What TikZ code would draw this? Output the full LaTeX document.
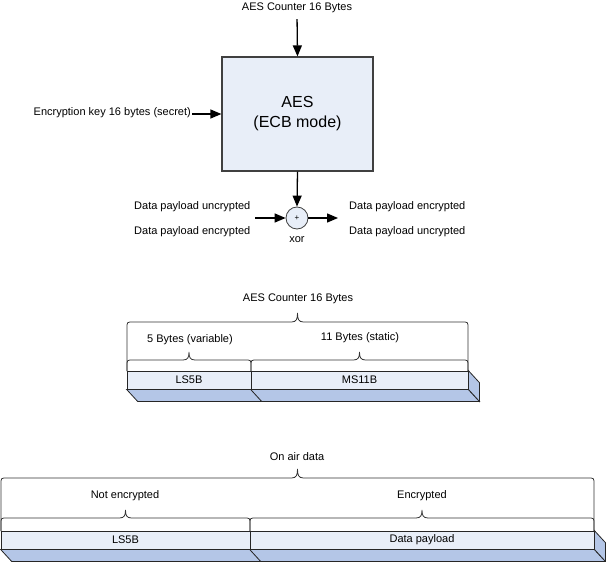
\documentclass[tikz,border=0pt]{standalone}
\usepackage{fontspec}
\setmainfont{Liberation Sans}
\usetikzlibrary{arrows.meta}
\definecolor{facefill}{HTML}{E8EEF8}
\definecolor{depthfill}{HTML}{B4C6E7}
\definecolor{edgegray}{HTML}{404040}
\tikzset{lbl/.style={font=\fontsize{11}{13}\selectfont, inner sep=1pt}}
\tikzset{flow/.style={line width=1.3pt, -{Triangle[length=11pt,width=9pt]}}}
\tikzset{aesbox/.style={draw=edgegray, line width=1.2pt, fill=facefill, align=center, font=\fontsize{16}{20}\selectfont}}
\tikzset{xorbox/.style={circle, draw=edgegray, line width=0.8pt, fill=facefill, minimum size=22, inner sep=0pt, font=\fontsize{8}{9}\selectfont}}
\tikzset{field/.style={draw=black!85, fill=facefill, line width=0.8pt, minimum height=18, inner sep=0pt, font=\fontsize{11}{13}\selectfont}}
\tikzset{depth/.style={draw=black!85, fill=depthfill, line width=0.8pt}}
\tikzset{bracket/.style={draw=black!80, line width=0.8pt}}
% brace with legs: x1, x2, y of legs' end, y of top line, y of tip
\newcommand{\fieldbrace}[5]{%
  \pgfmathsetmacro\bmid{(#1+#2)/2}
  \draw[bracket] (#1,#3) -- (#1,#4+6) .. controls (#1,#4) .. (#1+6,#4) -- (\bmid-6,#4)
    .. controls (\bmid-1,#4) and (\bmid,#4-3) .. (\bmid,#5)
    .. controls (\bmid,#4-3) and (\bmid+1,#4) .. (\bmid+6,#4) -- (#2-6,#4)
    .. controls (#2,#4) .. (#2,#4+6) -- (#2,#3);}

\begin{document}
\begin{tikzpicture}[x=1pt, y=-1pt]

\useasboundingbox (0,0) rectangle (606,562);

% AES block
\node[lbl] (ctrtop) at (297,8) {AES Counter 16 Bytes};
\node[aesbox, minimum width=151, minimum height=114] (aes) at (297.5,114) {AES\\(ECB mode)};
\node[lbl, anchor=east] (key) at (192,113) {Encryption key 16 bytes (secret)};

\draw[flow, shorten <=5pt] (ctrtop.south) -- (aes.north);
\draw[flow] (key.east |- aes.west) -- (aes.west);

% xor
\node[xorbox] (xor) at (297,218) {+};
\node[lbl] (xorlbl) at (297,240) {xor};
\coordinate (pin) at (255,218);
\coordinate (pout) at (338,218);

\draw[flow] (aes.south) -- (xor.north);
\draw[flow] (pin) -- (xor.west);
\draw[flow] (xor.east) -- (pout);

\node[lbl, anchor=west] (plainin) at (133,207) {Data payload uncrypted};
\node[lbl, anchor=west] (cipherin) at (133,232) {Data payload encrypted};
\node[lbl, anchor=west] (cipherout) at (348,207) {Data payload encrypted};
\node[lbl, anchor=west] (plainout) at (348,232) {Data payload uncrypted};

% counter layout
\node[field, minimum width=124] (ls) at (189,380) {LS5B};
\node[field, minimum width=217] (ms) at (359.5,380) {MS11B};

\foreach \f in {ls,ms} {
  \draw[depth] (\f.south west) -- ++(11,12) -- ([shift={(11,12)}]\f.south east) -- (\f.south east) -- cycle;
}
\draw[depth] (ms.north east) -- ++(11,12) -- ([shift={(11,12)}]ms.south east) -- (ms.south east) -- cycle;

\node[lbl] (ctrmid) at (298,299) {AES Counter 16 Bytes};
\node[lbl] (varlbl) at (190,340) {5 Bytes (variable)};
\node[lbl] (statlbl) at (360,338) {11 Bytes (static)};

\fieldbrace{127}{468}{371}{322}{313}
\fieldbrace{127}{251}{371}{360}{352}
\fieldbrace{251}{468}{371}{360}{352}

% on air layout
\node[field, minimum width=249] (hdr) at (125.5,540) {LS5B};
\node[field, minimum width=344] (payload) at (422,540) {Data payload};

\foreach \f in {hdr,payload} {
  \draw[depth] (\f.south west) -- ++(11,12) -- ([shift={(11,12)}]\f.south east) -- (\f.south east) -- cycle;
}
\draw[depth] (payload.north east) -- ++(11,12) -- ([shift={(11,12)}]payload.south east) -- (payload.south east) -- cycle;

\node[lbl] (airlbl) at (297,457) {On air data};
\node[lbl] (clearlbl) at (125,496) {Not encrypted};
\node[lbl] (enclbl) at (422,496) {Encrypted};

\fieldbrace{1}{594}{531}{478}{469}
\fieldbrace{1}{250}{531}{518}{510}
\fieldbrace{250}{594}{531}{518}{510}

\end{tikzpicture}
\end{document}
